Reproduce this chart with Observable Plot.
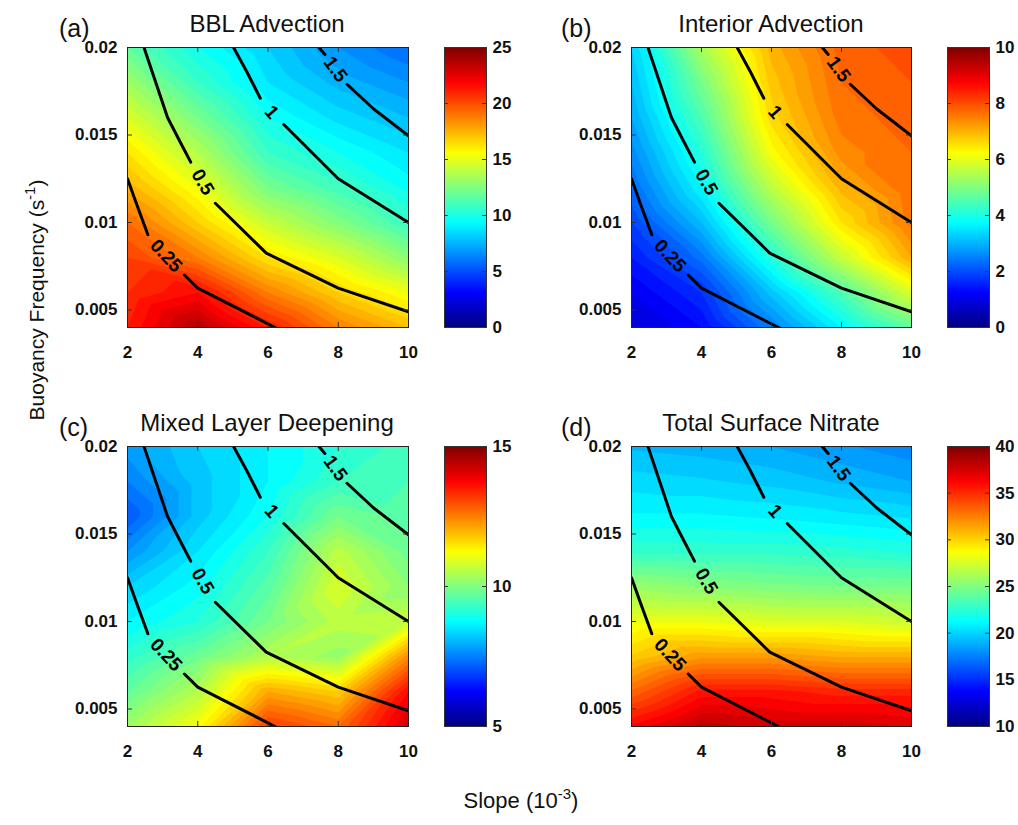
<!DOCTYPE html>
<html>
<head>
<meta charset="utf-8">
<script src="https://cdn.jsdelivr.net/npm/d3@7"></script>
<script src="https://cdn.jsdelivr.net/npm/@observablehq/plot@0.6"></script>
<style>
  html, body { margin: 0; padding: 0; background: #fff; }
  #fig { position: relative; width: 1018px; height: 825px; overflow: hidden; font-family: "Liberation Sans", Arial, Helvetica, sans-serif; color: #111; }
  .plt { position: absolute; }
  .plt svg { display: block; overflow: visible; }
  #overlay { position: absolute; left: 0; top: 0; pointer-events: none; }
</style>
</head>
<body>
<div id="fig">
<svg id="overlay" width="1018" height="825" font-family="Liberation Sans, Arial, sans-serif" fill="#111">
  <text x="59" y="37" font-size="25">(a)</text>
  <text x="267" y="32" font-size="24" text-anchor="middle">BBL Advection</text>
  <text x="561" y="37" font-size="25">(b)</text>
  <text x="771" y="32" font-size="24" text-anchor="middle">Interior Advection</text>
  <text x="59" y="436" font-size="25">(c)</text>
  <text x="267" y="431" font-size="24" text-anchor="middle">Mixed Layer Deepening</text>
  <text x="561" y="436" font-size="25">(d)</text>
  <text x="771" y="431" font-size="24" text-anchor="middle">Total Surface Nitrate</text>
  <text transform="translate(44,300) rotate(-90)" text-anchor="middle" font-size="21">Buoyancy Frequency (s<tspan font-size="15" dy="-9">-1</tspan><tspan dy="9">)</tspan></text>
  <text x="521" y="808" text-anchor="middle" font-size="22">Slope (10<tspan font-size="15" dy="-9">-3</tspan><tspan dy="9">)</tspan></text>
</svg>
</div>
<script>
// ---- grid of the experiments ----
const slopes = [2, 4, 6, 8, 10];                 // 10^-3
const freqs = [0.004, 0.006, 0.008, 0.010, 0.012, 0.014, 0.016, 0.018, 0.020]; // s^-1
const xTicks = [2, 4, 6, 8, 10];
const yTicks = [0.005, 0.01, 0.015, 0.02];

// ---- field values (rows: freqs bottom->top, columns: slopes) ----
const bblAdvection = [
  [21.5, 24.0, 21.5, 19.0, 17.5],
  [21.0, 22.0, 19.0, 17.0, 15.5],
  [20.5, 19.0, 16.5, 15.0, 13.0],
  [19.5, 17.0, 14.5, 12.8, 11.0],
  [17.8, 15.5, 12.5, 11.2, 9.8],
  [16.5, 14.0, 11.0, 10.0, 9.0],
  [15.0, 12.5, 10.0, 8.8, 8.0],
  [13.5, 11.0, 9.0, 7.8, 7.0],
  [12.0, 10.0, 8.5, 7.0, 6.0]
];
const interiorAdvection = [
  [0.9, 1.4, 2.6, 3.8, 4.8],
  [1.2, 1.8, 3.3, 4.6, 6.0],
  [1.6, 2.5, 4.2, 5.8, 7.2],
  [2.0, 3.2, 5.0, 6.6, 7.7],
  [2.4, 3.8, 5.7, 7.1, 7.8],
  [2.7, 4.2, 6.3, 7.5, 7.8],
  [3.0, 4.6, 6.7, 7.7, 7.9],
  [3.2, 5.0, 6.9, 7.8, 8.0],
  [3.4, 5.5, 7.1, 7.9, 8.1]
];
const mixedLayerDeepening = [
  [10.4, 11.3, 13.3, 12.8, 14.3],
  [9.8, 10.6, 12.2, 11.8, 13.8],
  [9.3, 9.9, 10.6, 10.3, 12.5],
  [8.8, 9.2, 10.0, 10.7, 10.8],
  [8.4, 8.9, 9.7, 11.0, 10.2],
  [7.8, 8.6, 9.4, 10.7, 9.9],
  [7.2, 8.3, 9.0, 10.0, 9.7],
  [7.6, 8.3, 8.8, 9.4, 9.6],
  [7.9, 8.4, 8.8, 9.2, 9.5]
];
const totalSurfaceNitrate = [
  [36.5, 38.5, 38.0, 38.0, 37.5],
  [33.5, 36.0, 36.0, 35.5, 35.5],
  [30.5, 32.0, 32.0, 31.5, 31.5],
  [28.5, 28.5, 28.0, 28.0, 27.5],
  [26.0, 25.5, 25.2, 25.0, 25.0],
  [23.0, 23.0, 23.0, 22.8, 22.5],
  [21.5, 21.5, 21.3, 21.0, 20.7],
  [20.5, 20.3, 20.0, 19.5, 19.0],
  [19.5, 19.3, 19.0, 18.5, 18.0]
];

// ---- black contour lines (vertices), split where the labels sit ----
const burgerVertices = [
  {part: "0.25a", slope: 2.0, freq: 0.0125}, {part: "0.25a", slope: 2.25, freq: 0.0111}, {part: "0.25a", slope: 2.58, freq: 0.0093},
  {part: "0.25b", slope: 3.62, freq: 0.0070}, {part: "0.25b", slope: 4.0, freq: 0.00625}, {part: "0.25b", slope: 6.2, freq: 0.004},
  {part: "0.5a", slope: 2.47, freq: 0.020}, {part: "0.5a", slope: 3.14, freq: 0.0160}, {part: "0.5a", slope: 3.5, freq: 0.0146}, {part: "0.5a", slope: 3.8, freq: 0.01345},
  {part: "0.5b", slope: 4.5, freq: 0.0111}, {part: "0.5b", slope: 5.95, freq: 0.00825}, {part: "0.5b", slope: 8.0, freq: 0.00625}, {part: "0.5b", slope: 10.0, freq: 0.0049},
  {part: "1a", slope: 5.02, freq: 0.020}, {part: "1a", slope: 5.4, freq: 0.0186}, {part: "1a", slope: 5.78, freq: 0.0171},
  {part: "1b", slope: 6.45, freq: 0.0156}, {part: "1b", slope: 8.0, freq: 0.0125}, {part: "1b", slope: 10.0, freq: 0.0100},
  {part: "1.5a", slope: 7.45, freq: 0.020}, {part: "1.5a", slope: 7.62, freq: 0.0196},
  {part: "1.5b", slope: 8.25, freq: 0.0179}, {part: "1.5b", slope: 9.0, freq: 0.0165}, {part: "1.5b", slope: 10.0, freq: 0.01495}
];
const burgerLabels = [
  {level: "0.25", slope: 3.1, freq: 0.0081, angle: 47},
  {level: "0.5", slope: 4.14, freq: 0.0123, angle: 60},
  {level: "1", slope: 6.1, freq: 0.0163, angle: 49},
  {level: "1.5", slope: 7.92, freq: 0.01875, angle: 54}
];

// ---- jet colormap ----
function jet(t) {
  t = Math.max(0, Math.min(1, t));
  const ch = v => Math.round(255 * Math.max(0, Math.min(1, v)));
  return `rgb(${ch(1.5 - Math.abs(4 * t - 3))},${ch(1.5 - Math.abs(4 * t - 2))},${ch(1.5 - Math.abs(4 * t - 1))})`;
}

const fig = document.getElementById("fig");
function place(node, left, top) {
  const wrap = document.createElement("div");
  wrap.className = "plt";
  wrap.style.left = left + "px";
  wrap.style.top = top + "px";
  wrap.appendChild(node);
  fig.insertBefore(wrap, document.getElementById("overlay"));
}
const baseStyle = {fontFamily: "Liberation Sans, Arial, sans-serif", fontSize: "17px", fontWeight: "bold", color: "#111", background: "transparent", overflow: "visible"};

function fieldPanel(values, domain, box) {
  const svgW = 370, svgH = 380;
  const fw = box.x1 - box.x0, fh = box.y1 - box.y0;
  const pts = [];
  freqs.forEach((f, i) => slopes.forEach((s, j) => pts.push({slope: s, freq: f, value: values[i][j]})));
  const step = (domain[1] - domain[0]) / 50;
  const thresholds = d3.range(domain[0], domain[1] + step / 2, step);
  const plot = Plot.plot({
    width: svgW, height: svgH,
    marginLeft: box.x0 - box.left, marginRight: box.left + svgW - box.x1,
    marginTop: box.y0 - box.top, marginBottom: box.top + svgH - box.y1,
    style: baseStyle,
    x: {domain: [2, 10]},
    y: {domain: [0.004, 0.02]},
    color: {type: "linear", domain, interpolate: jet, clamp: true},
    marks: [
      Plot.contour(pts, {x: "slope", y: "freq", fill: "value", interpolate: "barycentric", thresholds, pixelSize: 1, stroke: "none"}),
      Plot.line(burgerVertices, {x: "slope", y: "freq", z: "part", stroke: "black", strokeWidth: 3, strokeLinejoin: "round", clip: true}),
      Plot.text(burgerLabels, {x: "slope", y: "freq", text: "level", rotate: "angle", fontSize: 19, fontWeight: "bold", fill: "black"}),
      Plot.tickX(xTicks, {x: d => d, insetTop: fh - 5, stroke: "#333"}),
      Plot.tickX(xTicks, {x: d => d, insetBottom: fh - 5, stroke: "#333"}),
      Plot.tickY(yTicks, {y: d => d, insetRight: fw - 5, stroke: "#333"}),
      Plot.tickY(yTicks, {y: d => d, insetLeft: fw - 5, stroke: "#333"}),
      Plot.frame({stroke: "#222"}),
      Plot.axisX(xTicks, {tickSize: 0, tickPadding: 18, label: null}),
      Plot.axisY(yTicks, {tickSize: 0, tickPadding: 10, label: null, tickFormat: d => String(d)})
    ]
  });
  place(plot, box.left, box.top);
}

function colorBar(domain, ticks, box) {
  const svgW = 80, svgH = 380;
  const bw = box.x1 - box.x0;
  const plot = Plot.plot({
    width: svgW, height: svgH,
    marginLeft: box.x0 - box.left, marginRight: box.left + svgW - box.x1,
    marginTop: box.y0 - box.top, marginBottom: box.top + svgH - box.y1,
    style: baseStyle,
    x: {domain: [0, 1], axis: null},
    y: {domain},
    color: {type: "linear", domain, interpolate: jet},
    marks: [
      Plot.raster({x1: 0, x2: 1, y1: domain[0], y2: domain[1], fill: (x, y) => y, pixelSize: 1}),
      Plot.tickY(ticks, {y: d => d, insetRight: bw - 4, stroke: "#333"}),
      Plot.tickY(ticks, {y: d => d, insetLeft: bw - 4, stroke: "#333"}),
      Plot.frame({stroke: "#333"}),
      Plot.axisY(ticks, {anchor: "right", tickSize: 0, tickPadding: 6, label: null})
    ]
  });
  place(plot, box.left, box.top);
}

fieldPanel(bblAdvection, [0, 25], {left: 50, top: 0, x0: 127, x1: 408, y0: 47, y1: 327});
colorBar([0, 25], [0, 5, 10, 15, 20, 25], {left: 420, top: 0, x0: 444, x1: 486, y0: 47, y1: 327});
fieldPanel(interiorAdvection, [0, 10], {left: 550, top: 0, x0: 631, x1: 911, y0: 47, y1: 327});
colorBar([0, 10], [0, 2, 4, 6, 8, 10], {left: 923, top: 0, x0: 947, x1: 989, y0: 47, y1: 327});
fieldPanel(mixedLayerDeepening, [5, 15], {left: 50, top: 399, x0: 127, x1: 408, y0: 446, y1: 726});
colorBar([5, 15], [5, 10, 15], {left: 420, top: 399, x0: 444, x1: 486, y0: 446, y1: 726});
fieldPanel(totalSurfaceNitrate, [10, 40], {left: 550, top: 399, x0: 631, x1: 911, y0: 446, y1: 726});
colorBar([10, 40], [10, 15, 20, 25, 30, 35, 40], {left: 923, top: 399, x0: 947, x1: 989, y0: 446, y1: 726});
</script>
</body>
</html>
